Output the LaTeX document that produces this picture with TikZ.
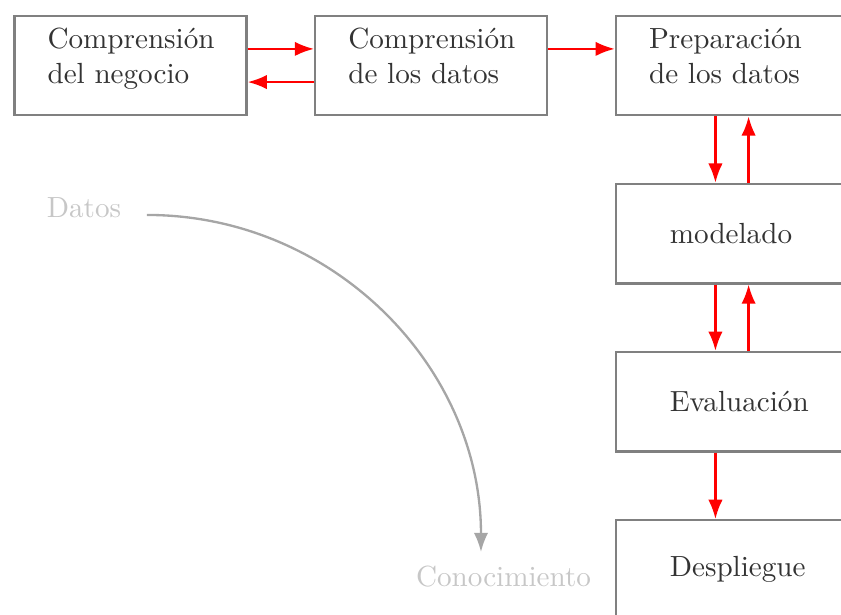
\documentclass[tikz,border=0pt]{standalone}
\usepackage{tikz}
\usetikzlibrary{arrows.meta, positioning}
\usepackage{xcolor}
\definecolor{flowred}{RGB}{255,0,0}

\tikzset{
    caja/.style={rectangle, draw=gray, thick, text=black!80,
        minimum width=2.8cm, minimum height=1.2cm, align=left},
    fase/.style={caja, text width=2cm, text depth=18.5pt},
    faseb/.style={caja, text width=1.5cm},
    flecha/.style={draw=flowred, thick, -{Latex}},
    tenue/.style={text=black!22}
}

\begin{document}
\begin{tikzpicture}
    % Page size
    \useasboundingbox (-1.574,0.790) rectangle (8.571,-6.617);

    % Top row
    \node[fase] (negocio) at (0,0) {Comprensi\'on\\del negocio};
    \node[fase, right=0.8cm of negocio] (datos) {Comprensi\'on\\de los datos};
    \node[fase, right=0.8cm of datos] (prep) {Preparaci\'on\\de los datos};

    % Column
    \node[faseb, below=0.8cm of prep] (model) {modelado};
    \node[faseb, below=0.8cm of model] (eval) {Evaluaci\'on};
    \node[faseb, below=0.8cm of eval] (despl) {Despliegue};

    % Arrows between phases
    \draw[flecha] ([yshift=0.2cm]negocio.east) -- ([yshift=0.2cm]datos.west);
    \draw[flecha] ([yshift=-0.2cm]datos.west) -- ([yshift=-0.2cm]negocio.east);
    \draw[flecha] ([yshift=0.2cm]datos.east) -- ([yshift=0.2cm]prep.west);
    \draw[flecha] ([xshift=-0.2cm]prep.south) -- ([xshift=-0.2cm]model.north);
    \draw[flecha] ([xshift=0.2cm]model.north) -- ([xshift=0.2cm]prep.south);
    \draw[flecha] ([xshift=-0.2cm]model.south) -- ([xshift=-0.2cm]eval.north);
    \draw[flecha] ([xshift=0.2cm]eval.north) -- ([xshift=0.2cm]model.south);
    \draw[flecha] ([xshift=-0.2cm]eval.south) -- ([xshift=-0.2cm]despl.north);

    % Datos -> Conocimiento
    \node[tenue] (dat) at (-0.561,-1.719) {Datos};
    \node[tenue] (con) at (4.50,-6.17) {Conocimiento};
    \coordinate (ini) at (0.199,-1.803);
    \coordinate (fin) at (4.228,-5.869);
    \draw[black!35, thick, -{Latex}] (ini) to[out=0, in=90] (fin);

\end{tikzpicture}
\end{document}
